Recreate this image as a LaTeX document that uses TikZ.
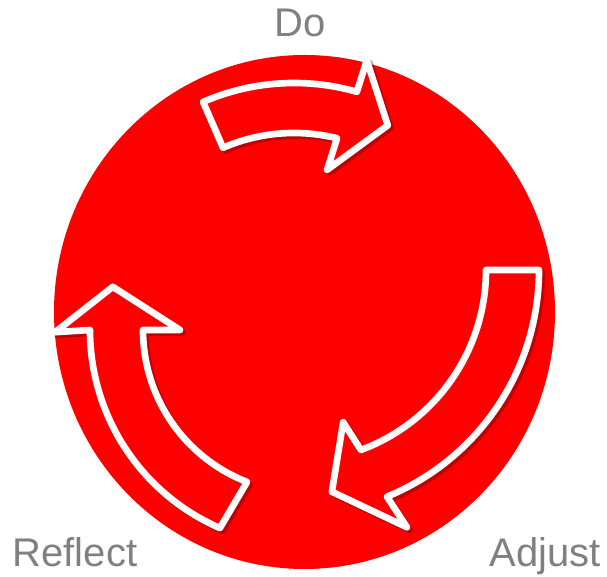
\documentclass[tikz,border=0pt]{standalone}
\usepackage{fontspec}
\setmainfont{Liberation Sans}
\usetikzlibrary{positioning}
\definecolor{cyclered}{HTML}{FF0000}
\definecolor{labelgray}{HTML}{808080}

\begin{document}
\begin{tikzpicture}[
		x=0.75pt, y=0.75pt,
		ar/.style = {draw=white, fill=cyclered, line width=5pt, line join=round,
			preaction={draw=cyclered!40!black, opacity=0.4, line width=5pt, line join=round,
				transform canvas={xshift=2pt, yshift=-2pt}}},
		l/.style  = {text=labelgray, font=\fontsize{30}{36}\selectfont, anchor=base}
		]
		
		\useasboundingbox (0,0) rectangle (607,577);
		
		% === === Circle === ===
		\coordinate	(o)	at	(304.5, 265);
		\fill[cyclered]	(o)	ellipse[x radius=250.5, y radius=257];
		
		
		% === === Arrows === ===
		\coordinate	(ct)	at	(294, 266);
		\coordinate	(cr)	at	(294, 307);
		\coordinate	(cl)	at	(306, 247);
		
		\begin{scope}[shift={(ct)}]
			\draw[ar]	(113.5:228) arc[start angle=113.5, end angle=74, radius=228]
				-- (73.8:261) -- (63.2:208) -- (76.8:145) -- (76:178)
				arc[start angle=76, end angle=113.5, radius=178] -- cycle;
		\end{scope}
		
		\begin{scope}[shift={(cr)}]
			\draw[ar]	(0:245) arc[start angle=0, end angle=-67.7, radius=245]
				-- (-66.3:281) -- (-80.3:225) -- (-72.1:160) -- (-69.6:192)
				arc[start angle=-69.6, end angle=0, radius=192] -- cycle;
		\end{scope}
		
		\begin{scope}[shift={(cl)}]
			\draw[ar]	(246.5:216) arc[start angle=246.5, end angle=180, radius=216]
				-- (180.5:251) -- (167.4:198) -- (180:126) -- (180:163)
				arc[start angle=180, end angle=248.8, radius=163] -- cycle;
		\end{scope}
		
		
		% === === Labels === ===
		\node[l]	(do)		at	(300, 540)	{Do};
		\node[l]	(reflect)	at	(75, 10)	{Reflect};
		\node[l]	(adjust)	at	(545, 10)	{Adjust};
		
	\end{tikzpicture}
\end{document}
